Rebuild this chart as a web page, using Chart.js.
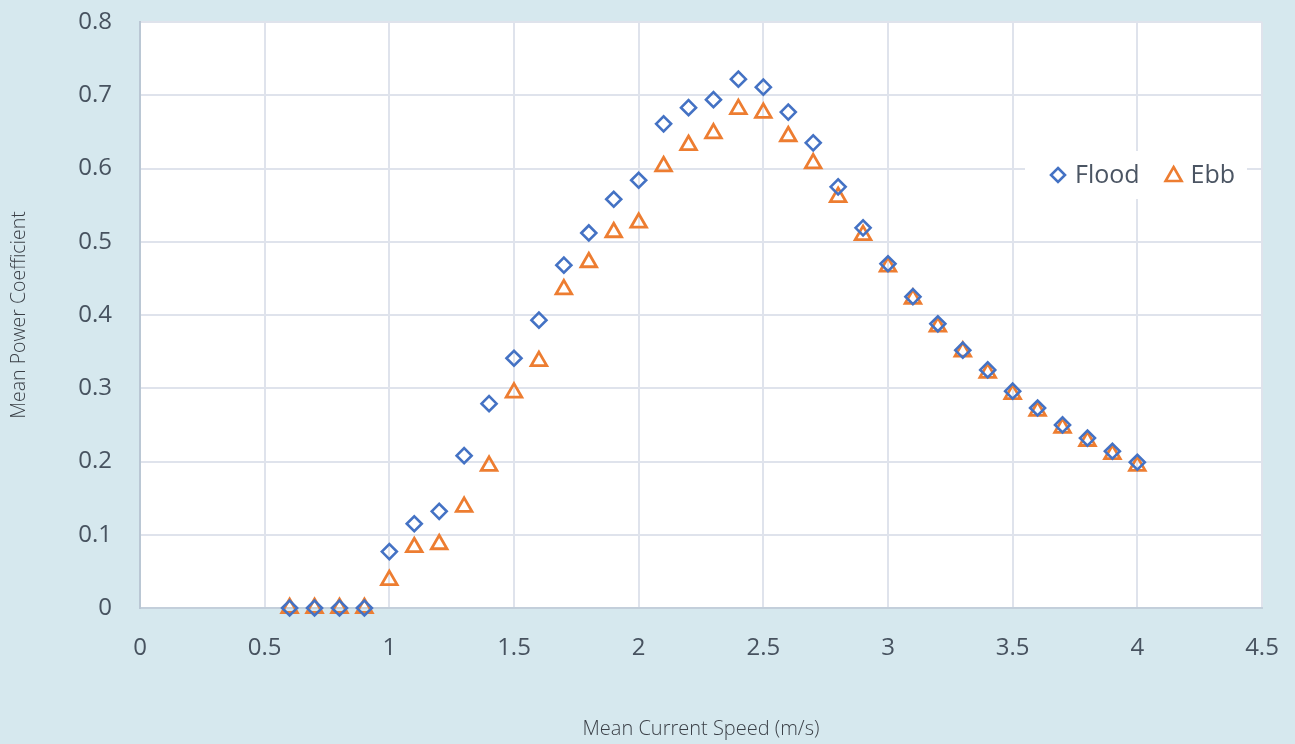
<!DOCTYPE html>
<html>
<head>
<meta charset="utf-8">
<script src="https://cdn.jsdelivr.net/npm/chart.js@4"></script>
<style>
  html, body { margin: 0; padding: 0; background: #d6e8ee; }
  #wrap { width: 1295px; height: 744px; }
</style>
</head>
<body>
<div id="wrap"><canvas id="chart"></canvas></div>
<script>
// current speed (m/s)
var speeds = [0.6, 0.7, 0.8, 0.9, 1.0, 1.1, 1.2, 1.3, 1.4, 1.5, 1.6, 1.7, 1.8, 1.9, 2.0,
  2.1, 2.2, 2.3, 2.4, 2.5, 2.6, 2.7, 2.8, 2.9, 3.0, 3.1, 3.2, 3.3, 3.4, 3.5, 3.6, 3.7, 3.8, 3.9, 4.0]

var flood = [0, 0, 0, 0, 0.077, 0.115, 0.132, 0.208, 0.279, 0.341, 0.393, 0.468, 0.512, 0.558, 0.584,
  0.661, 0.683, 0.694, 0.722, 0.711, 0.677, 0.635, 0.575, 0.519, 0.470, 0.425, 0.388, 0.352, 0.325, 0.296,
  0.273, 0.250, 0.232, 0.214, 0.199]

var ebb = [0, 0, 0, 0, 0.038, 0.083, 0.087, 0.138, 0.194, 0.294, 0.337, 0.435, 0.472, 0.513, 0.526,
  0.603, 0.632, 0.648, 0.681, 0.676, 0.644, 0.607, 0.561, 0.509, 0.466, 0.422, 0.384, 0.350, 0.321, 0.292,
  0.269, 0.246, 0.228, 0.210, 0.194]

var xTicks = [0, 0.5, 1, 1.5, 2, 2.5, 3, 3.5, 4, 4.5]

function toPoints(ys) {
  return speeds.map(function (x, i) { return { x: x, y: ys[i] } })
}

var tickColor = '#47525f'
var gridColor = '#dfe3ec'

// white plot area
var plotBg = {
  id: 'plotBg',
  beforeDraw: function (chart) {
    var a = chart.chartArea, c = chart.ctx
    c.save()
    c.fillStyle = '#ffffff'
    c.fillRect(a.left, a.top, a.right - a.left, a.bottom - a.top)
    c.restore()
  }
}

// legend inside the plot, top right
var innerLegend = {
  id: 'innerLegend',
  afterDatasetsDraw: function (chart) {
    var a = chart.chartArea, c = chart.ctx
    var y = a.top + 153
    var x0 = a.right - 237
    c.save()
    c.fillStyle = '#ffffff'
    c.fillRect(x0, y - 24, 222, 48)
    c.font = '25px "Open Sans", sans-serif'
    c.textBaseline = 'middle'
    var x = x0 + 33
    chart.data.datasets.forEach(function (ds) {
      c.strokeStyle = ds.borderColor
      c.lineWidth = 2.6
      c.beginPath()
      if (ds.pointStyle === 'rectRot') {
        c.moveTo(x, y - 7); c.lineTo(x + 7, y); c.lineTo(x, y + 7); c.lineTo(x - 7, y); c.closePath()
      } else {
        c.moveTo(x, y - 8); c.lineTo(x + 8, y + 6); c.lineTo(x - 8, y + 6); c.closePath()
      }
      c.stroke()
      c.fillStyle = '#4b5563'
      c.fillText(ds.label, x + 17, y + 1)
      x += 17 + c.measureText(ds.label).width + 34
    })
    c.restore()
  }
}

var ctx = document.getElementById('chart').getContext('2d')
var chart = new Chart(ctx, {
  type: 'scatter',
  data: {
    datasets: [{
      label: 'Flood',
      data: toPoints(flood),
      pointStyle: 'rectRot',
      pointRadius: 7.5,
      borderWidth: 2.6,
      borderColor: '#4472c4',
      backgroundColor: 'rgba(0,0,0,0)',
      clip: false
    }, {
      label: 'Ebb',
      data: toPoints(ebb),
      pointStyle: 'triangle',
      pointRadius: 9,
      borderWidth: 2.8,
      borderColor: '#ed7d31',
      backgroundColor: 'rgba(0,0,0,0)',
      clip: false
    }]
  },
  options: {
    animation: false,
    responsive: true,
    maintainAspectRatio: false,
    layout: { autoPadding: false, padding: { top: 22, right: 33, left: 0, bottom: 0 } },
    plugins: {
      legend: { display: false },
      tooltip: { enabled: false }
    },
    scales: {
      x: {
        type: 'linear',
        min: 0,
        max: 4.5,
        afterBuildTicks: function (s) { s.ticks = xTicks.map(function (v) { return { value: v } }) },
        afterFit: function (s) {
          s.height = 136
          s.paddingLeft = 0
          s.paddingRight = 0
        },
        grid: { color: gridColor, lineWidth: 2, drawTicks: false },
        border: { color: '#c3cfdb', width: 2 },
        ticks: {
          color: tickColor,
          padding: 26,
          maxRotation: 0,
          font: { family: '"Open Sans", sans-serif', size: 24 },
          callback: function (v) { return String(v) }
        },
        title: {
          display: true,
          text: 'Mean Current Speed (m/s)',
          color: '#3a3f46',
          font: { family: '"Open Sans", sans-serif', size: 20, weight: 300 },
          padding: { top: 0, bottom: 3 }
        }
      },
      y: {
        min: 0,
        max: 0.8,
        afterFit: function (s) {
          s.width = 140
          s.paddingTop = 0
          s.paddingBottom = 0
        },
        grid: { color: gridColor, lineWidth: 2, drawTicks: false },
        border: { color: '#bac7d4', width: 2 },
        ticks: {
          stepSize: 0.1,
          color: tickColor,
          padding: 28,
          font: { family: '"Open Sans", sans-serif', size: 24 },
          callback: function (v) { return String(Math.round(v * 10) / 10) }
        },
        title: {
          display: true,
          text: 'Mean Power Coefficient',
          color: '#3a3f46',
          font: { family: '"Open Sans", sans-serif', size: 19.5, weight: 300 },
          padding: { top: 8, bottom: 0 }
        }
      }
    }
  },
  plugins: [plotBg, innerLegend]
})
</script>
</body>
</html>
